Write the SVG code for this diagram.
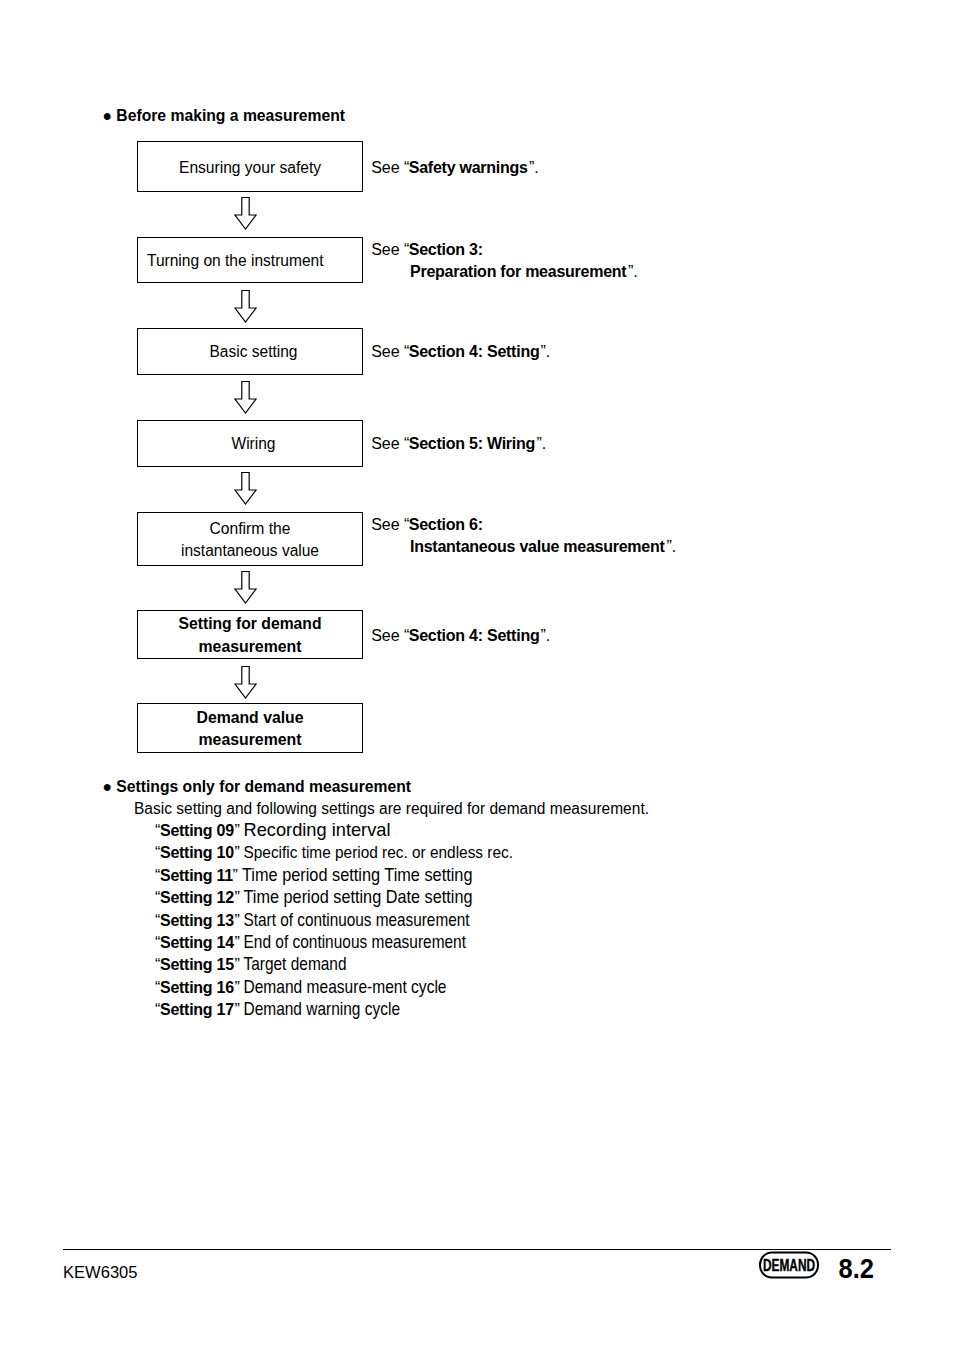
<svg xmlns="http://www.w3.org/2000/svg" width="954" height="1348" viewBox="0 0 954 1348">
<style>
text{font-family:"Liberation Sans",Arial,sans-serif;font-size:16px;fill:#000;white-space:pre}
.b,tspan.b{font-weight:bold}
.m{text-anchor:middle}
.box{fill:#fff;stroke:#000;stroke-width:1}
.arr{fill:#fff;stroke:#000;stroke-width:1.2;stroke-linejoin:miter}
.big{font-size:19px}
.lab{font-weight:bold;letter-spacing:-.27px}
.nb{font-weight:bold;letter-spacing:-.25px}
</style>
<defs><path id="a" class="arr" d="M-3.7 0H3.7V17.500H10.500L0 31.500L-10.500 17.500H-3.700Z"/></defs>
<rect width="954" height="1348" fill="#fff"/>
<text x="102.500" y="121" class="b" textLength="242.500" lengthAdjust="spacingAndGlyphs">● Before making a measurement</text>
<g id="n1"><rect class="box" x="137.500" y="141.500" width="225" height="50"/><text x="250" y="173" class="m" textLength="142" lengthAdjust="spacingAndGlyphs">Ensuring your safety</text></g>
<g id="n2"><rect class="box" x="137.500" y="237.500" width="225" height="45"/><text x="147" y="266" textLength="176.500" lengthAdjust="spacingAndGlyphs">Turning on the instrument</text></g>
<g id="n3"><rect class="box" x="137.500" y="328.500" width="225" height="46"/><text x="253.500" y="357" class="m" textLength="88" lengthAdjust="spacingAndGlyphs">Basic setting</text></g>
<g id="n4"><rect class="box" x="137.500" y="420.500" width="225" height="46"/><text x="253.500" y="449" class="m" textLength="44" lengthAdjust="spacingAndGlyphs">Wiring</text></g>
<g id="n5"><rect class="box" x="137.500" y="512.500" width="225" height="53"/><text x="250" y="534" class="m" textLength="81" lengthAdjust="spacingAndGlyphs">Confirm the</text><text x="250" y="556" class="m" textLength="138" lengthAdjust="spacingAndGlyphs">instantaneous value</text></g>
<g id="n6"><rect class="box" x="137.500" y="610.500" width="225" height="48"/><text x="250" y="629" class="m b" textLength="143" lengthAdjust="spacingAndGlyphs">Setting for demand</text><text x="250" y="652" class="m b" textLength="103" lengthAdjust="spacingAndGlyphs">measurement</text></g>
<g id="n7"><rect class="box" x="137.500" y="703.500" width="225" height="49"/><text x="250" y="723" class="m b" textLength="107" lengthAdjust="spacingAndGlyphs">Demand value</text><text x="250" y="745" class="m b" textLength="103" lengthAdjust="spacingAndGlyphs">measurement</text></g>
<g id="connectors">
<use href="#a" x="245.500" y="197.500"/>
<use href="#a" x="245.500" y="290.500"/>
<use href="#a" x="245.500" y="381.500"/>
<use href="#a" x="245.500" y="472.500"/>
<use href="#a" x="245.500" y="571.500"/>
<use href="#a" x="245.500" y="666.500"/>
</g>
<g id="notes">
<text y="173"><tspan x="371.200">See “</tspan><tspan x="408.800" class="nb">Safety warnings</tspan><tspan x="529">”.</tspan></text>
<text y="255"><tspan x="371.200">See “</tspan><tspan x="408.800" class="nb">Section 3:</tspan></text>
<text y="277"><tspan x="410" class="nb">Preparation for measurement</tspan><tspan x="628">”.</tspan></text>
<text y="357"><tspan x="371.200">See “</tspan><tspan x="408.800" class="nb">Section 4: Setting</tspan><tspan x="540.500">”.</tspan></text>
<text y="449"><tspan x="371.200">See “</tspan><tspan x="408.800" class="nb">Section 5: Wiring</tspan><tspan x="536.500">”.</tspan></text>
<text y="530"><tspan x="371.200">See “</tspan><tspan x="408.800" class="nb">Section 6:</tspan></text>
<text y="552"><tspan x="410" class="nb">Instantaneous value measurement</tspan><tspan x="666.500">”.</tspan></text>
<text y="641"><tspan x="371.200">See “</tspan><tspan x="408.800" class="nb">Section 4: Setting</tspan><tspan x="540.500">”.</tspan></text>
</g>
<g id="settings">
<text x="102.500" y="792" class="b" textLength="308.500" lengthAdjust="spacingAndGlyphs">● Settings only for demand measurement</text>
<text x="134" y="814" textLength="515" lengthAdjust="spacingAndGlyphs">Basic setting and following settings are required for demand measurement.</text>
<text y="836"><tspan x="155">“</tspan><tspan x="160" class="lab">Setting 09</tspan><tspan x="234.500">”</tspan></text><text x="243.500" y="836" class="big" textLength="147" lengthAdjust="spacingAndGlyphs">Recording interval</text>
<text y="858"><tspan x="155">“</tspan><tspan x="160" class="lab">Setting 10</tspan><tspan x="234.500">”</tspan></text><text x="243.500" y="858" textLength="269.500" lengthAdjust="spacingAndGlyphs">Specific time period rec. or endless rec.</text>
<text y="881"><tspan x="155">“</tspan><tspan x="160" class="lab">Setting 11</tspan><tspan x="232.500">”</tspan></text><text x="242" y="881" class="big" textLength="230.500" lengthAdjust="spacingAndGlyphs">Time period setting Time setting</text>
<text y="903"><tspan x="155">“</tspan><tspan x="160" class="lab">Setting 12</tspan><tspan x="234.500">”</tspan></text><text x="243.500" y="903" class="big" textLength="229" lengthAdjust="spacingAndGlyphs">Time period setting Date setting</text>
<text y="926"><tspan x="155">“</tspan><tspan x="160" class="lab">Setting 13</tspan><tspan x="234.500">”</tspan></text><text x="243.500" y="926" class="big" textLength="226" lengthAdjust="spacingAndGlyphs">Start of continuous measurement</text>
<text y="948"><tspan x="155">“</tspan><tspan x="160" class="lab">Setting 14</tspan><tspan x="234.500">”</tspan></text><text x="243.500" y="948" class="big" textLength="222.500" lengthAdjust="spacingAndGlyphs">End of continuous measurement</text>
<text y="970"><tspan x="155">“</tspan><tspan x="160" class="lab">Setting 15</tspan><tspan x="234.500">”</tspan></text><text x="243.500" y="970" class="big" textLength="103" lengthAdjust="spacingAndGlyphs">Target demand</text>
<text y="993"><tspan x="155">“</tspan><tspan x="160" class="lab">Setting 16</tspan><tspan x="234.500">”</tspan></text><text x="243.500" y="993" class="big" textLength="203" lengthAdjust="spacingAndGlyphs">Demand measure-ment cycle</text>
<text y="1015"><tspan x="155">“</tspan><tspan x="160" class="lab">Setting 17</tspan><tspan x="234.500">”</tspan></text><text x="243.500" y="1015" class="big" textLength="156.500" lengthAdjust="spacingAndGlyphs">Demand warning cycle</text>
</g>
<g id="footer">
<line x1="63" y1="1249.500" x2="891" y2="1249.500" stroke="#000"/>
<text x="63" y="1278" style="font-size:17px" textLength="74.500" lengthAdjust="spacingAndGlyphs">KEW6305</text>
<rect x="760" y="1252.500" width="58" height="25" rx="12" ry="12" fill="#fff" stroke="#000" stroke-width="2"/>
<text x="789" y="1271" class="m b" style="font-size:17px;stroke:#000;stroke-width:.4" textLength="52" lengthAdjust="spacingAndGlyphs">DEMAND</text>
<text x="838.500" y="1278" class="b" style="font-size:27px" textLength="35.500" lengthAdjust="spacingAndGlyphs">8.2</text>
</g>
</svg>
